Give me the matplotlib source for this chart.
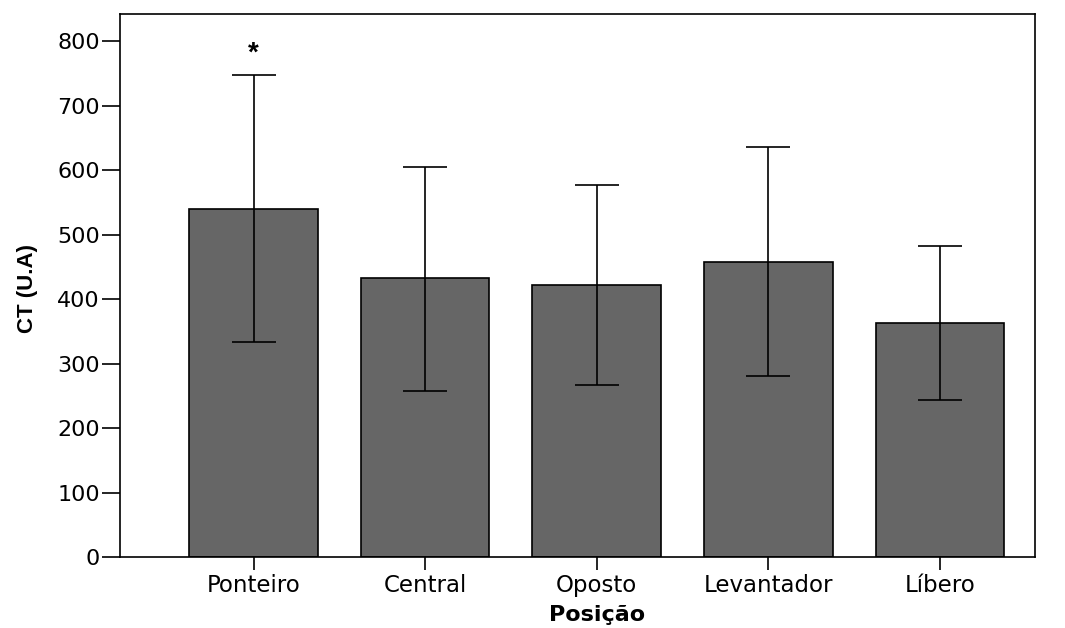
import matplotlib.pyplot as plt
import matplotlib.transforms as mtransforms

plt.rcParams['font.family'] = ['DejaVu Sans']

posicoes = ["Ponteiro", "Central", "Oposto", "Levantador", "Líbero"]
ct_media = [540, 433, 422, 458, 363]
erro_baixo = [207, 175, 155, 178, 120]
erro_cima = [207, 172, 155, 178, 119]
yticks = [0, 100, 200, 300, 400, 500, 600, 700, 800]

fig = plt.figure(figsize=(10.65, 6.28), dpi=100)
ax = fig.add_axes([120/1065, 1-557/628, (1035-120)/1065, (557-14)/628])

x = list(range(len(posicoes)))
ax.bar(x, ct_media, width=0.75, color='#666666', edgecolor='black', linewidth=1.2, zorder=2)
ax.errorbar(x, ct_media, yerr=[erro_baixo, erro_cima], fmt='none', ecolor='black',
            elinewidth=1.2, capsize=15.5, capthick=1.2, zorder=3)

# asterisco acima do Ponteiro
ax.text(0, 770, '*', ha='center', va='baseline', fontsize=20, fontweight='bold',
        family='Liberation Sans')

ax.set_xlim(-0.778, 4.554)
ax.set_ylim(0, 842)
ax.set_xticks(x)
ax.set_xticklabels(posicoes, fontsize=16.5)
ax.set_yticks(yticks)
ax.set_yticklabels([str(v) for v in yticks], fontsize=16)
ax.tick_params(axis='y', length=13, width=1.2, pad=1.5)
ax.tick_params(axis='x', length=9.5, width=1.2, pad=3)
for s in ax.spines.values():
    s.set_linewidth(1.2)

ax.set_xlabel('Posição', fontsize=16, fontweight='bold')
trans = mtransforms.blended_transform_factory(ax.transData, ax.transAxes)
ax.xaxis.set_label_coords(2, -0.088, transform=trans)
ax.set_ylabel('CT (U.A)', fontsize=16, fontweight='bold', family='Liberation Sans')
ax.yaxis.set_label_coords(-0.09, 0.4936)

plt.savefig('out.png', dpi=100)
